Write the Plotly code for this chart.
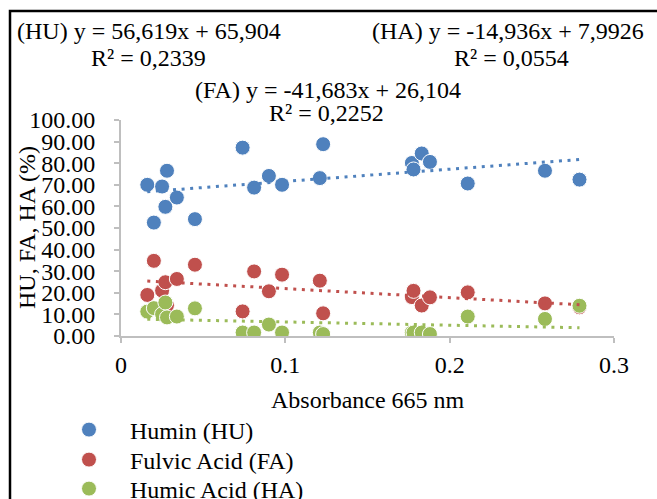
import plotly.graph_objects as go

# ---- data ----
absorbance = [0.016, 0.020, 0.025, 0.027, 0.028, 0.034, 0.045, 0.074, 0.081, 0.090,
              0.098, 0.121, 0.123, 0.177, 0.178, 0.183, 0.188, 0.211, 0.258, 0.279]
humin_hu = [70.0, 52.5, 69.2, 59.8, 76.5, 64.1, 54.1, 87.2, 68.7, 74.1,
            70.0, 73.1, 88.8, 80.1, 77.1, 84.5, 80.6, 70.6, 76.5, 72.4]
fulvic_fa = [19.0, 34.8, 21.0, 24.9, 14.2, 26.4, 33.0, 11.4, 29.9, 20.7,
             28.4, 25.6, 10.5, 18.0, 20.9, 14.1, 17.9, 20.2, 15.1, 13.3]
humic_ha = [11.3, 12.9, 10.1, 15.5, 8.6, 9.0, 12.8, 1.6, 1.6, 5.3,
            1.6, 1.6, 0.9, 1.6, 1.6, 1.6, 0.9, 9.0, 7.9, 14.0]

series_names = ["Humin (HU)", "Fulvic Acid (FA)", "Humic Acid (HA)"]
series_values = [humin_hu, fulvic_fa, humic_ha]
series_colors = ["#4F81BD", "#C0504D", "#9BBB59"]

# trendline coefficients (slope, intercept) as printed on the chart
trend_slope = [56.619, -41.683, -14.936]
trend_intercept = [65.904, 26.104, 7.9926]

eq_texts = ["(HU) y = 56,619x + 65,904", "R² = 0,2339",
            "(HA) y = -14,936x + 7,9926", "R² = 0,0554",
            "(FA) y = -41,683x + 26,104", "R² = 0,2252"]

x_ticks = [0, 0.1, 0.2, 0.3]
x_tick_labels = ["0", "0.1", "0.2", "0.3"]
y_ticks = [0, 10, 20, 30, 40, 50, 60, 70, 80, 90, 100]

# ---- layout geometry ----
W, H = 657, 499
L, R, T, B = 121, 614, 120, 336
FONT = "Liberation Serif"
FS = 24
AXC = "#BFBFBF"


def px(xp):
    return (xp - L) / (R - L)


def py(yp):
    return (B - yp) / (B - T)


fig = go.Figure()

legend_ids = ["legend", "legend2", "legend3"]
legend_rows = [430, 460, 489]

for name, vals, col, lid in zip(series_names, series_values, series_colors, legend_ids):
    fig.add_trace(go.Scatter(
        x=absorbance, y=vals, mode="markers", name=name, legend=lid,
        marker=dict(color=col, size=15, line=dict(color="white", width=1)),
    ))

xmin, xmax = min(absorbance), max(absorbance)
for a, b, col in zip(trend_slope, trend_intercept, series_colors):
    fig.add_trace(go.Scatter(
        x=[xmin, xmax], y=[a * xmin + b, a * xmax + b], mode="lines",
        line=dict(color=col, width=3, dash="3px,5.6px"),
        showlegend=False, hoverinfo="skip",
    ))

ann_pos = [(149, 31), (148, 58), (508, 31), (511, 58), (328, 90), (326, 113)]
annotations = []
for txt, (ax_, ay_) in zip(eq_texts, ann_pos):
    annotations.append(dict(text=txt, x=px(ax_), y=py(ay_), xref="paper", yref="paper",
                            xanchor="center", yanchor="middle", showarrow=False,
                            font=dict(family=FONT, size=FS, color="black")))
annotations.append(dict(text="HU, FA, HA (%)", x=px(27), y=py(228), xref="paper", yref="paper",
                        xanchor="center", yanchor="middle", showarrow=False, textangle=-90,
                        font=dict(family=FONT, size=FS, color="black")))
annotations.append(dict(text="Absorbance 665 nm", x=px(368), y=py(400), xref="paper", yref="paper",
                        xanchor="center", yanchor="middle", showarrow=False,
                        font=dict(family=FONT, size=FS, color="black")))

legend_style = dict(xanchor="left", yanchor="middle", bgcolor="rgba(0,0,0,0)",
                    font=dict(family=FONT, size=FS, color="black"), itemwidth=72)
legends = {}
for lid, row in zip(legend_ids, legend_rows):
    legends[lid] = dict(x=px(48), y=py(row), **legend_style)

fig.update_layout(
    width=W, height=H,
    margin=dict(l=L, r=W - R, t=T, b=H - B, pad=0, autoexpand=False),
    paper_bgcolor="white", plot_bgcolor="white",
    font=dict(family=FONT, size=FS, color="black"),
    showlegend=True,
    annotations=annotations,
    shapes=[dict(type="rect", xref="paper", yref="paper",
                 x0=px(10), x1=px(670), y0=py(520), y1=py(11),
                 line=dict(color="black", width=2.5), layer="below")],
    xaxis=dict(range=[0, 0.3], tickvals=x_ticks, ticktext=x_tick_labels,
               showgrid=False, zeroline=False, showline=True, linecolor=AXC, linewidth=2,
               ticks="outside", ticklen=5, tickcolor=AXC, tickwidth=2,
               tickfont=dict(family=FONT, size=FS, color="black"), ticklabelstandoff=1),
    yaxis=dict(range=[0, 100], tickvals=y_ticks, tickformat=".2f",
               showgrid=False, zeroline=False, showline=True, linecolor=AXC, linewidth=2,
               ticks="outside", ticklen=5, tickcolor=AXC, tickwidth=2,
               tickfont=dict(family=FONT, size=FS, color="black"), ticklabelstandoff=14),
    **legends,
)

fig.write_html("out.html", config={"displayModeBar": False})
